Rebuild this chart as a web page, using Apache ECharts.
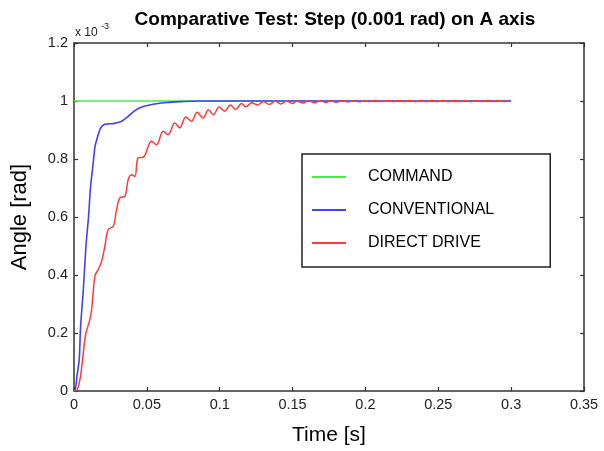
<!DOCTYPE html>
<html>
<head>
<meta charset="utf-8">
<script src="https://cdn.jsdelivr.net/npm/echarts@6/dist/echarts.min.js"></script>
<style>html,body{margin:0;padding:0;background:#fff}#c{width:604px;height:451px}</style>
</head>
<body>
<div id="c"></div>
<script>
// values in units of 1e-3 rad
const commandT = [0, 0.3];
const commandV = [1, 1];

const convT = [0, 0.0007, 0.002, 0.0036, 0.0045, 0.0064, 0.0082, 0.0098, 0.0114, 0.0132, 0.0144, 0.016, 0.0183, 0.0212, 0.027, 0.0327, 0.0372, 0.0418, 0.0475, 0.0543, 0.0635, 0.074, 0.085, 0.3];
const convV = [0, 0, 0.05, 0.11, 0.22, 0.35, 0.5, 0.59, 0.706, 0.787, 0.843, 0.873, 0.907, 0.92, 0.922, 0.93, 0.947, 0.967, 0.981, 0.989, 0.995, 0.998, 1.0, 1.0];

const ddT = [0, 0.0014, 0.0041, 0.0064, 0.0082, 0.011, 0.0121, 0.0132, 0.0144, 0.0167, 0.019, 0.0212, 0.0235, 0.027, 0.029, 0.0315, 0.035, 0.0372, 0.0395, 0.0418, 0.044, 0.0475, 0.0532, 0.0566, 0.0612, 0.0646, 0.0692, 0.0726, 0.0767, 0.0806, 0.0845, 0.0886, 0.0922, 0.0957, 0.0995, 0.1034, 0.1073, 0.111, 0.115, 0.118, 0.122, 0.126, 0.130, 0.134, 0.138, 0.142, 0.146, 0.150, 0.153, 0.157, 0.161, 0.165, 0.169, 0.173, 0.176, 0.180, 0.184, 0.188, 0.192, 0.196, 0.199, 0.203, 0.207, 0.211, 0.215, 0.219, 0.222, 0.226, 0.230, 0.234, 0.238, 0.242, 0.245, 0.249, 0.253, 0.257, 0.261, 0.265, 0.268, 0.272, 0.276, 0.280, 0.284, 0.288, 0.291, 0.295, 0.299];
const ddV = [0, 0, 0.04, 0.133, 0.2, 0.248, 0.282, 0.34, 0.397, 0.42, 0.448, 0.5, 0.557, 0.568, 0.62, 0.666, 0.672, 0.729, 0.746, 0.74, 0.804, 0.806, 0.861, 0.849, 0.896, 0.884, 0.924, 0.907, 0.945, 0.93, 0.961, 0.941, 0.97, 0.953, 0.979, 0.965, 0.986, 0.971, 0.991, 0.98, 0.994, 0.986, 0.998, 0.988, 0.999, 0.990, 1.0, 0.991, 1.0, 0.993, 1.001, 0.994, 1.001, 0.995, 1.001, 0.996, 1.001, 0.997, 1.001, 0.997, 1.001, 0.998, 1.002, 0.998, 1.002, 0.998, 1.002, 0.998, 1.002, 0.998, 1.002, 0.998, 1.002, 0.998, 1.002, 0.998, 1.002, 0.998, 1.002, 0.998, 1.002, 0.998, 1.002, 0.998, 1.002, 0.998, 1.001];

const seriesNames = ['COMMAND', 'CONVENTIONAL', 'DIRECT DRIVE'];
const titleText = 'Comparative Test: Step (0.001 rad) on A axis';

function pairs(t, v) { return t.map((x, i) => [x, v[i]]); }

const FONT = '"Liberation Sans", Arial, sans-serif';
const axisLineStyle = { color: '#333', width: 1.5 };
const tickCommon = { show: true, inside: true, length: 4, lineStyle: { color: '#333', width: 1.2 } };

const chart = echarts.init(document.getElementById('c'), null, { renderer: 'canvas' });
chart.setOption({
  animation: false,
  backgroundColor: '#fff',
  grid: { left: 74, right: 20, top: 43, bottom: 59, containLabel: false },
  xAxis: [
    {
      type: 'value', min: 0, max: 0.35, interval: 0.05, position: 'bottom',
      name: 'Time [s]', nameLocation: 'middle', nameGap: 34,
      nameTextStyle: { fontFamily: FONT, fontSize: 21, color: '#000' },
      axisLine: { onZero: false, lineStyle: axisLineStyle },
      axisTick: tickCommon,
      axisLabel: { fontFamily: FONT, fontSize: 14.5, color: '#222', margin: 6 },
      splitLine: { show: false }
    },
    {
      type: 'value', min: 0, max: 0.35, interval: 0.05, position: 'top',
      axisLine: { onZero: false, lineStyle: axisLineStyle },
      axisTick: tickCommon,
      axisLabel: { show: false },
      splitLine: { show: false }
    }
  ],
  yAxis: [
    {
      type: 'value', min: 0, max: 1.2, interval: 0.2, position: 'left',
      name: 'Angle [rad]', nameLocation: 'middle', nameGap: 43,
      nameTextStyle: { fontFamily: FONT, fontSize: 22, color: '#000' },
      axisLine: { onZero: false, lineStyle: axisLineStyle },
      axisTick: tickCommon,
      axisLabel: { fontFamily: FONT, fontSize: 14.5, color: '#222', margin: 6 },
      splitLine: { show: false }
    },
    {
      type: 'value', min: 0, max: 1.2, interval: 0.2, position: 'right',
      axisLine: { onZero: false, lineStyle: axisLineStyle },
      axisTick: tickCommon,
      axisLabel: { show: false },
      splitLine: { show: false }
    }
  ],
  legend: {
    orient: 'vertical', left: 302, top: 154,
    padding: [15, 56, 16, 10], itemGap: 17,
    icon: 'rect', itemWidth: 34, itemHeight: 2,
    backgroundColor: '#fff', borderColor: '#222', borderWidth: 1.5,
    textStyle: { fontFamily: FONT, fontSize: 16, color: '#000', lineHeight: 16, padding: [0, 0, 0, 17] },
    data: seriesNames
  },
  graphic: [
    { type: 'text', x: 335, y: 20, style: { text: titleText, align: 'center', verticalAlign: 'middle', fontFamily: FONT, fontSize: 19, fontWeight: 'bold', fill: '#000' } },
    { type: 'text', x: 75, y: 33, style: { text: 'x 10', align: 'left', verticalAlign: 'middle', fontFamily: FONT, fontSize: 12, fill: '#222' } },
    { type: 'text', x: 101, y: 27, style: { text: '-3', align: 'left', verticalAlign: 'middle', fontFamily: FONT, fontSize: 9, fill: '#222' } }
  ],
  series: [
    { name: seriesNames[0], type: 'line', data: pairs(commandT, commandV), symbol: 'none', lineStyle: { color: '#44ee44', width: 1.5 }, itemStyle: { color: '#44ee44' }, z: 2 },
    { name: seriesNames[1], type: 'line', data: pairs(convT, convV), symbol: 'none', smooth: 0.25, lineStyle: { color: '#4040ff', width: 1.6 }, itemStyle: { color: '#4040ff' }, z: 3 },
    { name: seriesNames[2], type: 'line', data: pairs(ddT, ddV), symbol: 'none', smooth: 0.35, lineStyle: { color: '#ff3a3a', width: 1.5 }, itemStyle: { color: '#ff3a3a' }, z: 4 }
  ]
});
</script>
</body>
</html>
